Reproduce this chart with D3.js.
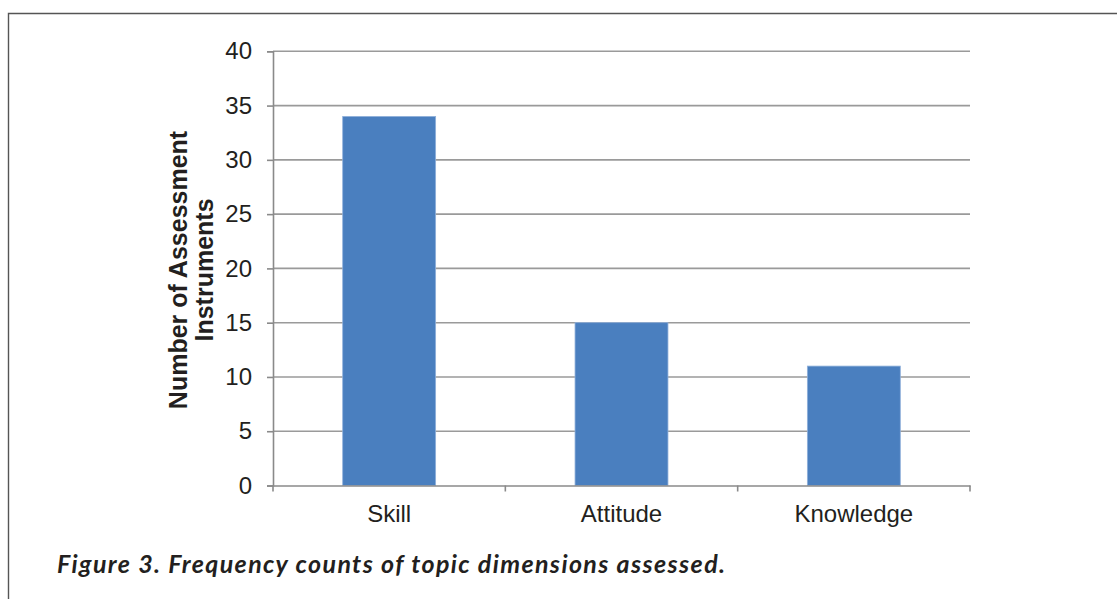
<!DOCTYPE html>
<html>
<head>
<meta charset="utf-8">
<script src="https://cdn.jsdelivr.net/npm/d3@7"></script>
<style>
  html, body { margin: 0; padding: 0; background: #fff; }
  svg { display: block; }
</style>
</head>
<body>
<script>
const categories = ["Skill", "Attitude", "Knowledge"];
const counts = [34, 15, 11];
const yTicks = [0, 5, 10, 15, 20, 25, 30, 35, 40];
const yTitleLines = ["Number of Assessment", "Instruments"];
const caption = "Figure 3. Frequency counts of topic dimensions assessed.";

const W = 1117, H = 599;
const svg = d3.select("body").append("svg").attr("width", W).attr("height", H);

// frame
svg.append("path")
  .attr("d", `M8.5,${H} L8.5,13.5 L${W},13.5`)
  .attr("fill", "none").attr("stroke", "#555").attr("stroke-width", 1.4);

const x0 = 273, x1 = 970, yTop = 51.3, yBot = 485.5;
const x = d3.scaleBand().domain(categories).range([x0, x1]).paddingInner(0).paddingOuter(0);
const y = d3.scaleLinear().domain([0, 40]).range([yBot, yTop]);

// gridlines
svg.append("g").selectAll("line").data(yTicks.filter(d => d > 0)).join("line")
  .attr("x1", x0).attr("x2", x1)
  .attr("y1", d => y(d)).attr("y2", d => y(d))
  .attr("stroke", "#9a9a9a").attr("stroke-width", 1.6);

// bars
const bw = x.bandwidth() * 0.4;
svg.append("g").selectAll("rect").data(categories).join("rect")
  .attr("x", d => x(d) + (x.bandwidth() - bw) / 2)
  .attr("width", bw)
  .attr("y", (d, i) => y(counts[i]))
  .attr("height", (d, i) => yBot - y(counts[i]))
  .attr("fill", "#4a7fbf")
  .attr("stroke", "#8fb0da").attr("stroke-width", 0.8);

const FONT = "Liberation Sans, Arial, sans-serif";

// y axis
const yAxis = svg.append("g").attr("transform", `translate(${x0},0)`)
  .call(d3.axisLeft(y).tickValues(yTicks).tickSize(6).tickPadding(15));
yAxis.select(".domain").attr("stroke", "#8a8a8a").attr("stroke-width", 1.6);
yAxis.selectAll(".tick line").attr("stroke", "#8a8a8a").attr("stroke-width", 1.6);
yAxis.selectAll("text").attr("font-family", FONT)
  .attr("font-size", 24).attr("fill", "#231f20");

// x axis
const xAxis = svg.append("g").attr("transform", `translate(0,${yBot})`)
  .call(d3.axisBottom(x).tickSize(0).tickPadding(19));
xAxis.select(".domain").attr("stroke", "#8a8a8a").attr("stroke-width", 1.6);
xAxis.selectAll("text").attr("font-family", FONT)
  .attr("font-size", 24).attr("fill", "#231f20");
// boundary ticks
const bounds = categories.map(c => x(c)).concat([x1]);
svg.append("g").selectAll("line").data(bounds).join("line")
  .attr("x1", d => d).attr("x2", d => d)
  .attr("y1", yBot).attr("y2", yBot + 6)
  .attr("stroke", "#8a8a8a").attr("stroke-width", 1.6);

// y title
const yt = svg.append("g");
yTitleLines.forEach((t, i) => {
  yt.append("text")
    .attr("transform", `translate(${187 + i * 26},270) rotate(-90)`)
    .attr("text-anchor", "middle")
    .attr("font-family", FONT)
    .attr("font-weight", "bold").attr("font-size", 25)
    .attr("fill", "#231f20").text(t);
});

// caption
const cap = svg.append("text")
  .attr("x", 57).attr("y", 573)
  .attr("font-family", "Lato, Open Sans, sans-serif")
  .attr("font-weight", "bold").attr("font-style", "italic")
  .attr("font-size", 24).attr("fill", "#231f20")
  .text(caption);
const natural = cap.node().getComputedTextLength();
cap.attr("font-size", Math.min(25, 24 * 668 / natural));
cap.attr("textLength", 668).attr("lengthAdjust", "spacing");
</script>
</body>
</html>
